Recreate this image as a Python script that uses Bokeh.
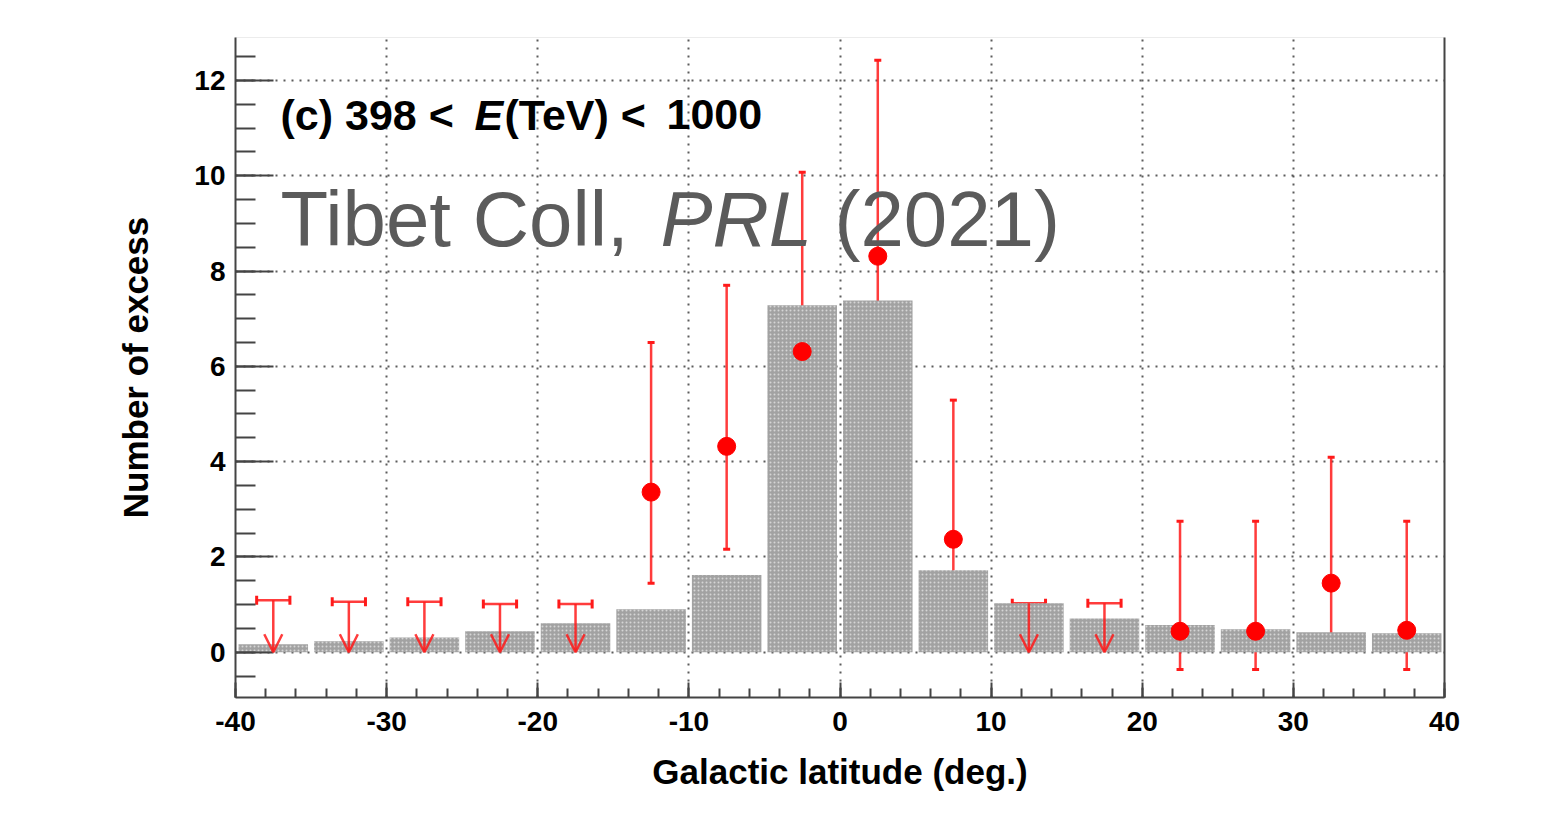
from bokeh.plotting import figure
from bokeh.models import (Whisker, TeeHead, Arrow, OpenHead, ColumnDataSource, Label,
                          LinearAxis, Range1d, FixedTicker)
from bokeh.embed import file_html
from bokeh.resources import INLINE

# ---------------- data ----------------
bin_centers = [-37.5, -32.5, -27.5, -22.5, -17.5, -12.5, -7.5, -2.5,
               2.5, 7.5, 12.5, 17.5, 22.5, 27.5, 32.5, 37.5]
bg_counts = [0.17, 0.23, 0.31, 0.44, 0.61, 0.90, 1.62, 7.28,
             7.38, 1.72, 1.03, 0.71, 0.57, 0.48, 0.42, 0.40]

pt_x = [-12.5, -7.5, -2.5, 2.5, 7.5, 22.5, 27.5, 32.5, 37.5]
pt_y = [3.36, 4.32, 6.31, 8.31, 2.37, 0.44, 0.44, 1.45, 0.46]
pt_hi = [6.50, 7.70, 10.07, 12.42, 5.29, 2.75, 2.75, 4.09, 2.75]
pt_lo = [1.45, 2.16, 3.75, 5.39, 0.76, -0.36, -0.36, 0.17, -0.36]

ul_x = [-37.5, -32.5, -27.5, -22.5, -17.5, 12.5, 17.5]
ul_y = [1.09, 1.06, 1.06, 1.01, 1.01, 1.03, 1.03]

x_ticks = [-40, -30, -20, -10, 0, 10, 20, 30, 40]
y_ticks = [0, 2, 4, 6, 8, 10, 12]

# ---------------- figure ----------------
W, H = 1557, 821
FL, FR, FT, FB = 235, 113, 37, 124
p = figure(width=W, height=H, x_range=Range1d(-40, 40), y_range=Range1d(-0.95, 12.9),
           output_backend="svg", toolbar_location=None,
           min_border_left=FL, min_border_right=FR, min_border_top=FT, min_border_bottom=FB,
           background_fill_color="white", border_fill_color="white")
p.outline_line_color = "#ececec"

# screen px -> data helpers (for text placement only)
def dx(px):
    return -40 + (px - FL) * 80.0 / (W - FL - FR)
def dy(py):
    return 12.9 - (py - FT) * (12.9 + 0.95) / (H - FT - FB)

RED = "#ff1a1a"
FONT = "Liberation Sans"

# ticks & axes
x_minor = [v for v in range(-40, 41, 2)]
y_minor = [v * 0.5 for v in range(-1, 26)]
p.xaxis.ticker = FixedTicker(ticks=x_ticks, minor_ticks=x_minor)
p.yaxis.ticker = FixedTicker(ticks=y_ticks, minor_ticks=y_minor)
p.xaxis.major_label_overrides = {v: str(v) for v in x_ticks}
p.yaxis.major_label_overrides = {v: str(v) for v in y_ticks}
for ax in (p.xaxis[0], p.yaxis[0]):
    ax.axis_line_width = 2
    ax.axis_line_color = "#444444"
    ax.major_tick_line_color = "#444444"
    ax.minor_tick_line_color = "#444444"
    ax.major_tick_line_width = 2
    ax.minor_tick_line_width = 2
    ax.major_tick_out = 0
    ax.minor_tick_out = 0
    ax.major_label_text_font = FONT
    ax.major_label_text_font_style = "bold"
    ax.major_label_text_font_size = "28px"
    ax.major_label_text_color = "black"
    ax.axis_label_text_font = FONT
    ax.axis_label_text_font_style = "bold"
    ax.axis_label_text_font_size = "35px"
    ax.axis_label_text_color = "black"
p.xaxis.major_tick_in = 15
p.xaxis.minor_tick_in = 9
p.yaxis.major_tick_in = 38
p.yaxis.minor_tick_in = 20
p.xaxis.major_label_standoff = 14
p.yaxis.major_label_standoff = 10
p.xaxis.axis_label = "Galactic latitude (deg.)"
p.yaxis.axis_label = "Number of excess"
p.xaxis.axis_label_standoff = 18
p.yaxis.axis_label_standoff = 36

right_ax = LinearAxis(major_tick_in=0, major_tick_out=0, minor_tick_in=0, minor_tick_out=0,
                      major_label_text_font_size="0px", axis_line_width=2,
                      axis_line_color="#444444", ticker=FixedTicker(ticks=[]))
p.add_layout(right_ax, "right")

# grids
p.xgrid.ticker = FixedTicker(ticks=x_ticks)
p.ygrid.ticker = FixedTicker(ticks=y_ticks)
for g in (p.xgrid[0], p.ygrid[0]):
    g.grid_line_color = "#333333"
    g.grid_line_dash = "2 6"
    g.grid_line_width = 2
    g.grid_line_alpha = 0.8

# background histogram
p.vbar(x=bin_centers, top=bg_counts, bottom=0, width=4.6,
       fill_color="#a2a2a2", line_color=None,
       hatch_pattern="dot", hatch_color="white", hatch_scale=4, hatch_alpha=0.55)

# data points with error bars
src = ColumnDataSource(dict(x=pt_x, y=pt_y, hi=pt_hi, lo=pt_lo))
p.add_layout(Whisker(source=src, base="x", upper="hi", lower="lo",
                     line_color=RED, line_width=2.5, line_alpha=0.85,
                     upper_head=TeeHead(size=7, line_color=RED, line_width=3),
                     lower_head=TeeHead(size=7, line_color=RED, line_width=3)))
p.scatter(x="x", y="y", source=src, size=18, color="#ff0000")

# upper limits
ul_src = ColumnDataSource(dict(x=ul_x, y=ul_y, zero=[0] * len(ul_x),
                               xl=[v - 1.1 for v in ul_x], xr=[v + 1.1 for v in ul_x]))
p.add_layout(Whisker(source=ul_src, dimension="width", base="y", lower="xl", upper="xr",
                     line_color=RED, line_width=2.5, line_alpha=0.85,
                     upper_head=TeeHead(size=9, line_color=RED, line_width=3),
                     lower_head=TeeHead(size=9, line_color=RED, line_width=3)))
p.add_layout(Arrow(source=ul_src, x_start="x", y_start="y", x_end="x", y_end="zero",
                   line_color=RED, line_width=2.5, line_alpha=0.85,
                   end=OpenHead(size=18, line_color=RED, line_width=2.5, line_alpha=0.85)))

# annotation texts
def lab(text, px, py, size, style, color):
    p.add_layout(Label(x=dx(px), y=dy(py), text=text, text_font=FONT, text_font_size=size,
                       text_font_style=style, text_color=color, text_baseline="alphabetic"))

lab("(c) 398 <", 280, 114, "43px", "bold", "black")
lab("E", 474, 114, "43px", "bold italic", "black")
lab("(TeV) <", 504, 114, "43px", "bold", "black")
lab("1000", 666, 114, "43px", "bold", "black")

lab("Tibet Coll,", 280, 218, "78px", "normal", "#5b5b5b")
lab("PRL", 660, 218, "78px", "italic", "#5b5b5b")
lab("(2021)", 834, 218, "78px", "normal", "#5b5b5b")

open("out.html", "w").write(file_html(p, INLINE))
